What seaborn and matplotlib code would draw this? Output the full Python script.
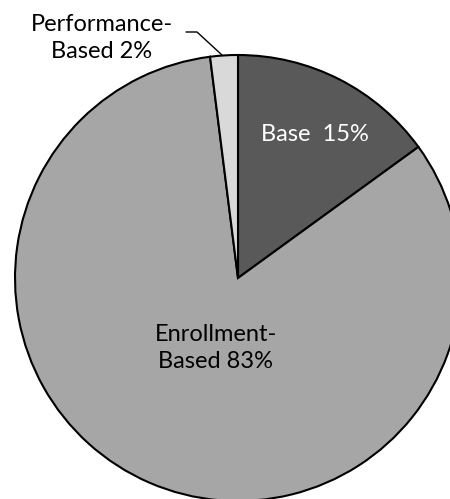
import matplotlib
matplotlib.use("Agg")
import matplotlib.pyplot as plt
import seaborn as sns

categories = ["Base", "Enrollment-Based", "Performance-Based"]
values = [15, 83, 2]
colors = ["#595959", "#a6a6a6", "#d9d9d9"]
label_texts = ["Base  15%", "Enrollment-\nBased 83%", "Performance-\nBased 2%"]

sns.set_theme(style="white")
plt.rcParams["font.family"] = ["Lato", "DejaVu Sans"]

W, H = 450, 499
fig = plt.figure(figsize=(W / 100, H / 100), dpi=100)
ax = fig.add_axes([0, 0, 1, 1])

cx, cy, r = 238, H - 278, 223
wedges, _ = ax.pie(values, colors=colors, startangle=90, counterclock=False,
                   center=(cx, cy), radius=r,
                   wedgeprops=dict(edgecolor="black", linewidth=1.5))

fs = 17
ax.text(315, H - 134, label_texts[0], color="white", fontsize=fs,
        ha="center", va="center")
ax.text(216, H - 348, label_texts[1], color="black", fontsize=fs,
        ha="center", va="center", linespacing=1.3)
ax.text(102, H - 38, label_texts[2], color="black", fontsize=fs,
        ha="center", va="center", linespacing=1.3)
# leader line for performance-based
ax.plot([186, 197, 222], [H - 32, H - 32, H - 55], color="black", lw=1)

ax.set_xlim(0, W)
ax.set_ylim(0, H)
ax.set_aspect("auto")
ax.axis("off")
fig.savefig("out.png", dpi=100)
